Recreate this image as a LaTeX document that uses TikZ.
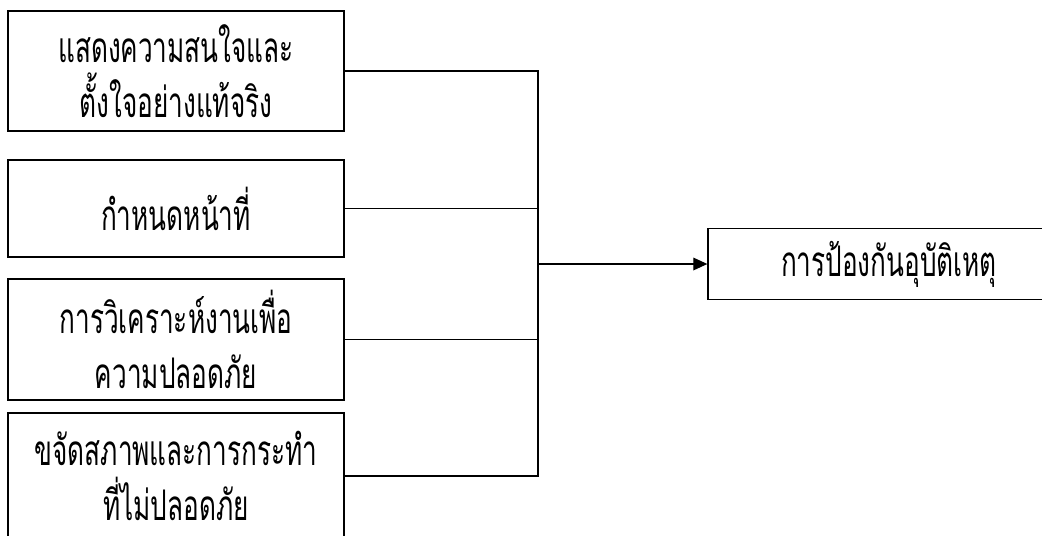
\documentclass[tikz,border=0pt]{standalone}
\usepackage{fontspec}
\newfontfamily\thaifont[Script=Thai,FakeStretch=0.62]{Loma}
\usetikzlibrary{arrows.meta}
\tikzset{
  box/.style={draw, line width=0.9pt, minimum width=336*0.025cm, align=center,
    inner sep=0pt, font=\thaifont\fontsize{30}{39}\selectfont},
  link/.style={draw, line width=0.9pt}
}
\begin{document}
\begin{tikzpicture}[x=0.025cm, y=-0.025cm]
  \useasboundingbox (0,0) rectangle (1042,535);
  \node[box, minimum height=120*0.025cm] (interest) at (176,71)
    {แสดงความสนใจและ\\ตั้งใจอย่างแท้จริง};
  \node[box, minimum height=97*0.025cm] (duty) at (176,208.5) {กำหนดหน้าที่};
  \node[box, minimum height=121*0.025cm] (analysis) at (176,339.5)
    {การวิเคราะห์งานเพื่อ\\ความปลอดภัย};
  \node[box, minimum height=126*0.025cm] (remove) at (176,476)
    {ขจัดสภาพและการกระทำ\\ที่ไม่ปลอดภัย};
  \node[box, minimum width=362*0.025cm, minimum height=71*0.025cm] (prevent) at (889,264)
    {การป้องกันอุบัติเหตุ};
  \coordinate (join) at (538,264);
  \begin{scope}[link]
    \draw (interest.east) -| (join);
    \draw (duty.east) -| (join);
    \draw (analysis.east) -| (join);
    \draw (remove.east) -| (join);
    \draw[-{Triangle[length=10pt,width=9pt]}] (join) -- (prevent.west);
  \end{scope}
\end{tikzpicture}
\end{document}
